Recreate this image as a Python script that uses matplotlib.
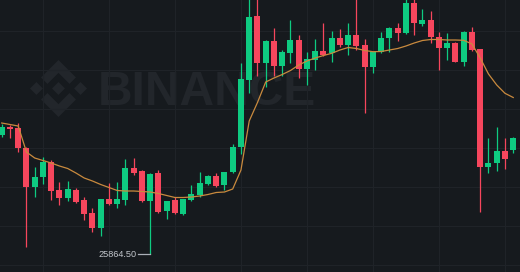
import numpy as np
import matplotlib
matplotlib.use("Agg")
import matplotlib.pyplot as plt
from matplotlib.patches import Polygon

# candle data (BTC/USDT)
opens = [27055, 27138, 27128, 26928, 26532, 26638, 26788, 26505, 26428, 26505,
         26405, 26272, 26122, 26412, 26365, 26405, 26722, 26695, 26395, 26672,
         26295, 26405, 26265, 26405, 26455, 26565, 26645, 26555, 26682, 26938,
         27605, 28240, 27772, 27995, 27748, 27872, 28005, 27712, 27805, 27898,
         27872, 28022, 27955, 28055, 27955, 27738, 27882, 28022, 28128, 28072,
         28378, 28165, 28205, 28038, 27922, 27978, 27788, 28088, 27912, 26732,
         26778, 26898, 26905]
highs = [27165, 27155, 27172, 26938, 26738, 26832, 26805, 26588, 26598, 26528,
         26438, 26322, 26412, 26572, 26582, 26812, 26828, 26705, 26675, 26705,
         26400, 26432, 26420, 26555, 26682, 26655, 26672, 26690, 26965, 27778,
         28455, 28455, 28005, 28122, 27905, 28205, 28055, 27888, 28012, 28172,
         28095, 28112, 28172, 28455, 28012, 27890, 28082, 28135, 28178, 28455,
         28455, 28312, 28298, 28088, 28072, 27985, 28095, 28132, 27915, 27022,
         27138, 27028, 27035]
lows = [27035, 27025, 26888, 25938, 26438, 26565, 26405, 26355, 26398, 26375,
        26205, 26088, 26045, 26360, 26322, 26355, 26655, 26385, 25864.5, 26272,
        26212, 26265, 26255, 26400, 26438, 26555, 26538, 26505, 26672, 26865,
        27472, 27650, 27532, 27645, 27645, 27778, 27622, 27555, 27705, 27845,
        27788, 27938, 27855, 27905, 27272, 27678, 27875, 27882, 27998, 28065,
        28055, 28145, 27978, 27705, 27805, 27785, 27748, 27900, 26288, 26672,
        26698, 26712, 26875]
closes = [27138, 27115, 26922, 26532, 26638, 26788, 26498, 26428, 26512, 26388,
          26265, 26122, 26412, 26365, 26412, 26722, 26678, 26395, 26665, 26288,
          26398, 26272, 26415, 26465, 26572, 26645, 26548, 26688, 26938, 27612,
          28240, 27772, 27995, 27748, 27882, 28005, 27712, 27815, 27898, 27855,
          28022, 27955, 28055, 27945, 27738, 27888, 28022, 28128, 28072, 28372,
          28172, 28205, 28032, 27922, 27978, 27788, 28088, 27905, 26732, 26778,
          26898, 26812, 27022]
ma = [27175, 27160, 27145, 26885, 26825, 26800, 26775, 26745, 26720, 26675,
      26625, 26595, 26560, 26530, 26500, 26495, 26495, 26490, 26485, 26470,
      26450, 26430, 26430, 26435, 26445, 26460, 26480, 26485, 26515, 26705,
      27195, 27380, 27585, 27625, 27660, 27700, 27755, 27795, 27825, 27850,
      27872, 27905, 27930, 27920, 27900, 27888, 27890, 27905, 27920, 27945,
      27975, 28000, 28010, 28010, 28005, 28005, 28002, 27965, 27825, 27665,
      27555, 27472, 27430]
low_label = "25864.50"
low_idx = 18
price_grid = [28095, 27705, 27315, 26925, 26535, 26145, 25755]
time_grid = [5, 13, 21, 29, 37, 45, 53, 61]

BG = "#161a1e"
UP = "#0ecb81"
DOWN = "#f6465d"
WM = "#22262b"

fig = plt.figure(figsize=(5.2, 2.72), dpi=100, facecolor=BG)

# watermark layer in pixel coordinates
axbg = fig.add_axes([0, 0, 1, 1], zorder=0)
axbg.set_xlim(0, 520)
axbg.set_ylim(272, 0)
axbg.axis("off")
axbg.set_facecolor(BG)

logo = [
    [(16.624, 13.920), (19.3415, 16.6356), (11.9885, 23.9886), (4.6355, 16.6366), (7.353, 13.9202), (11.9885, 18.5797)],
    [(21.2606, 9.2836), (24, 12), (21.2852, 14.7164), (18.5682, 12)],
    [(11.9886, 9.2846), (14.7049, 11.976), (11.9885, 14.6934), (9.2721, 12)],
    [(2.7164, 9.2836), (5.4088, 12), (2.7174, 14.6924), (0, 12)],
    [(11.9885, 0.0115), (19.3415, 7.3405), (16.6241, 10.0559), (11.9885, 5.4203), (7.353, 10.0798), (4.6356, 7.3644)],
]
cx, cy, s = 58.5, 88.5, 28.5
for pts in logo:
    p = [(cx + (x - 12) * s / 12, cy + (y - 12) * s / 12) for x, y in pts]
    axbg.add_patch(Polygon(p, closed=True, color=WM, lw=0))
axbg.text(98, 105, "BINANCE", fontsize=34.5, fontweight="bold", family="Liberation Sans",
          color=WM, ha="left", va="baseline")

# main chart
ax = fig.add_axes([0, 0, 1, 1], zorder=1)
ax.set_facecolor("none")
n = len(opens)
x = np.arange(n)
o = np.array(opens, dtype=float)
c = np.array(closes, dtype=float)
colors = [UP if cc >= oo else DOWN for oo, cc in zip(o, c)]

ax.vlines(x, lows, highs, colors=colors, linewidth=0.9, zorder=2)
bottoms = np.minimum(o, c)
heights = np.maximum(np.abs(c - o), 8)
ax.bar(x, heights, bottom=bottoms, width=0.73, color=colors, linewidth=0, zorder=3)

ax.plot(x, ma, color="#c98a3e", linewidth=0.9, zorder=4)

# lowest price marker
ax.plot([low_idx - 1.44, low_idx], [lows[low_idx], lows[low_idx]], color="#aab0b8", linewidth=0.9, zorder=4)
ax.text(low_idx - 1.6, lows[low_idx], low_label, fontsize=6.6, family="Liberation Sans",
        color="#c3c7cd", ha="right", va="center", zorder=5)

ax.set_xlim(-0.206, 62.82)
ax.set_ylim(25685, 28405)
ax.set_xticks(time_grid)
ax.set_yticks(price_grid)
ax.grid(True, color="#1f2328", linewidth=0.8)
ax.set_axisbelow(True)
ax.tick_params(length=0, labelbottom=False, labelleft=False)
for sp in ax.spines.values():
    sp.set_visible(False)

fig.savefig("out.png", dpi=100, facecolor=BG)
